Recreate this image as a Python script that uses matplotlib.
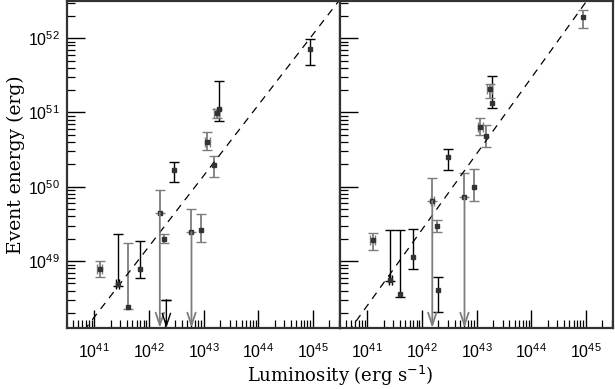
import numpy as np
import matplotlib.pyplot as plt
from matplotlib.ticker import LogLocator, NullFormatter

plt.rcParams['font.family'] = 'Liberation Sans'

# log10 values
# left panel
lum_a = [44.95, 43.28, 43.24, 43.07, 43.19, 42.46, 42.20, 42.28, 42.32, 42.78, 42.96, 41.84, 41.61, 41.43, 41.10]
en_a = [51.86, 51.05, 50.99, 50.60, 50.30, 50.22, 49.65, 49.30, 48.48, 49.39, 49.42, 48.90, 48.38, 48.69, 48.90]
hi_a = [51.99, 51.42, 51.05, 50.74, 50.42, 50.34, 49.96, 49.36, 48.48, 49.70, 49.64, 49.27, 49.24, 49.36, 49.00]
lo_a = [51.64, 50.88, 50.92, 50.49, 50.13, 50.06, None, 49.24, None, None, 49.26, 48.77, 48.36, 48.67, 48.78]
xe_a = [0, 0, 0.04, 0.05, 0, 0, 0, 0, 0, 0, 0, 0, 0, 0.03, 0.05]
col_a = ['k', 'k', 'g', 'g', 'g', 'k', 'g', 'g', 'k', 'g', 'g', 'k', 'g', 'k', 'g']
mark_a = [1, 1, 1, 1, 1, 1, 1, 1, 0, 1, 1, 1, 1, 1, 1]

# right panel
lum_b = [44.95, 43.29, 43.24, 43.07, 43.18, 42.47, 42.95, 42.78, 42.19, 42.28, 42.30, 41.84, 41.60, 41.42, 41.10]
en_b = [52.28, 51.13, 51.31, 50.80, 50.69, 50.40, 50.00, 49.86, 49.81, 49.47, 48.61, 49.05, 48.56, 48.75, 49.28]
hi_b = [52.38, 51.49, 51.38, 50.93, 50.83, 50.51, 50.24, 50.18, 50.12, 49.55, 48.78, 49.43, 49.42, 49.42, 49.38]
lo_b = [52.13, 51.06, 51.20, 50.70, 50.54, 50.23, 49.81, None, None, 49.39, 48.31, 48.90, 48.52, 48.73, 49.15]
xe_b = [0, 0, 0.04, 0.05, 0, 0, 0, 0, 0.03, 0, 0, 0, 0, 0.03, 0.05]
col_b = ['g', 'k', 'g', 'g', 'g', 'k', 'g', 'g', 'g', 'g', 'k', 'k', 'k', 'k', 'g']
mark_b = [1] * 15

# dashed relations: (slope, pivot logL, pivot logE)
fit_a = (0.95, 42.73, 49.89)
fit_b = (1.02, 42.40, 49.83)

xmin, xmax = 10**40.5, 10**45.5
ymin, ymax = 10**48.1, 10**52.5
colors = {'k': 'black', 'g': '#7d7d7d'}

fig = plt.figure(figsize=(6.15, 3.89), dpi=100)
ax1 = fig.add_axes([67/615, 1 - 328/389, 273/615, 327/389])
ax2 = fig.add_axes([340/615, 1 - 328/389, 273/615, 327/389])


def draw(ax, lum, en, hi, lo, xe, col, mark, fit):
    for L, E, h, l, dx, c, m in zip(lum, en, hi, lo, xe, col, mark):
        x, y = 10**L, 10**E
        low = 0 if l is None else y - 10**l
        yerr = [[low], [10**h - y]]
        xerr = None
        if dx:
            xerr = [[x - 10**(L - dx)], [10**(L + dx) - x]]
        ax.errorbar([x], [y], yerr=yerr, xerr=xerr, fmt='s' if m else 'none',
                    ms=2.3, mfc='#333333', mec='#333333', ecolor=colors[c],
                    elinewidth=1.3 if c == 'g' else 1.0, capsize=3.5, capthick=1.0)
        if l is None:
            ax.annotate('', xy=(x, ymin), xytext=(x, y),
                        arrowprops=dict(arrowstyle='->,head_length=0.9,head_width=0.3',
                                        color=colors[c], lw=1.3 if c == 'g' else 1.0,
                                        shrinkA=0, shrinkB=0))
    s, p, q = fit
    lx = np.linspace(40.5, 45.5, 50)
    ax.plot(10**lx, 10**(q + s * (lx - p)), color='black', lw=0.9, dashes=(6, 5))

    ax.set_xscale('log')
    ax.set_yscale('log')
    ax.set_xlim(xmin, xmax)
    ax.set_ylim(ymin, ymax)
    ax.set_xticks([1e41, 1e42, 1e43, 1e44, 1e45])
    ax.xaxis.set_minor_locator(LogLocator(base=10, subs=np.arange(2, 10)))
    ax.yaxis.set_minor_locator(LogLocator(base=10, subs=np.arange(2, 10)))
    ax.xaxis.set_minor_formatter(NullFormatter())
    ax.yaxis.set_minor_formatter(NullFormatter())
    ax.set_yticks([1e49, 1e50, 1e51, 1e52])
    ax.tick_params(which='major', direction='in', length=13, width=1.0, labelsize=11.5)
    ax.tick_params(axis='x', which='major', pad=10)
    ax.tick_params(axis='y', which='major', pad=5)
    ax.tick_params(which='minor', direction='in', length=6, width=0.9)
    ax.tick_params(top=False, right=False)
    for sp in ax.spines.values():
        sp.set_linewidth(1.6)
        sp.set_color('#333333')


draw(ax1, lum_a, en_a, hi_a, lo_a, xe_a, col_a, mark_a, fit_a)
draw(ax2, lum_b, en_b, hi_b, lo_b, xe_b, col_b, mark_b, fit_b)
ax2.tick_params(labelleft=False)

ax1.set_ylabel('Event energy (erg)', family='DejaVu Serif', fontsize=13.5, labelpad=2)
fig.text(340/615, 1 - 382/389, 'Luminosity (erg s$^{-1}$)', family='DejaVu Serif',
         fontsize=13, ha='center', va='baseline')

fig.savefig('out.png', dpi=100)
